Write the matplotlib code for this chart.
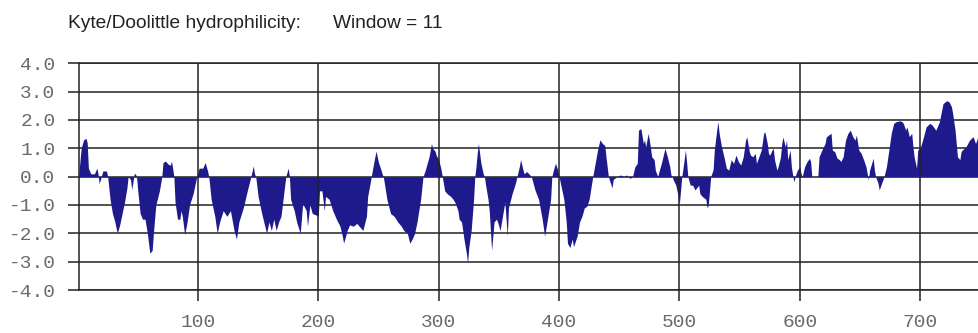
import numpy as np
import matplotlib
matplotlib.use('Agg')
import matplotlib.pyplot as plt

#Kyte/Doolittle hydrophilicity profile
residue = [1, 3, 5, 7, 8, 9, 11, 14, 16, 17, 18, 19, 21, 24, 25, 27, 29, 31, 33, 35,
           37, 39, 41, 42, 44, 45, 46, 47, 48, 49, 50, 52, 54, 56, 58, 60, 62, 63, 65, 68,
           70, 71, 73, 75, 77, 78, 79, 80, 81, 83, 85, 86, 87, 89, 91, 93, 96, 99, 101, 104,
           106, 108, 109, 111, 114, 116, 118, 121, 124, 127, 130, 132, 134, 138, 141, 144, 146, 147, 148, 150,
           153, 157, 159, 161, 163, 165, 167, 169, 171, 173, 175, 176, 177, 180, 182, 185, 187, 190, 191, 193,
           195, 198, 200, 201, 203, 205, 206, 209, 212, 215, 218, 220, 221, 224, 226, 229, 232, 234, 237, 240,
           241, 243, 244, 245, 247, 248, 250, 252, 253, 254, 257, 260, 263, 266, 269, 271, 274, 276, 278, 280,
           282, 285, 287, 289, 292, 294, 295, 297, 298, 300, 302, 303, 305, 307, 310, 312, 314, 316, 317, 319,
           321, 323, 324, 325, 327, 329, 330, 331, 332, 333, 335, 337, 338, 339, 341, 342, 344, 346, 348, 349,
           351, 353, 355, 357, 358, 361, 364, 365, 367, 368, 370, 371, 373, 375, 377, 380, 383, 386, 388, 390,
           393, 394, 395, 397, 399, 400, 402, 404, 406, 407, 409, 411, 412, 415, 417, 419, 421, 423, 425, 426,
           428, 430, 432, 434, 436, 438, 439, 441, 444, 445, 448, 451, 454, 456, 459, 461, 463, 465, 466, 468,
           470, 471, 472, 474, 475, 477, 479, 480, 482, 483, 485, 487, 488, 490, 492, 493, 494, 495, 497, 499,
           500, 502, 503, 505, 506, 507, 509, 511, 513, 516, 517, 519, 522, 523, 524, 526, 528, 529, 531, 532,
           533, 535, 537, 539, 541, 543, 545, 547, 549, 551, 553, 555, 556, 558, 559, 561, 563, 564, 566, 568,
           570, 571, 573, 574, 575, 577, 578, 579, 581, 582, 584, 585, 586, 588, 589, 590, 592, 593, 595, 597,
           598, 600, 601, 602, 604, 606, 608, 609, 610, 615, 616, 619, 621, 622, 624, 626, 627, 629, 631, 633,
           634, 636, 638, 640, 642, 644, 646, 647, 649, 651, 653, 655, 657, 658, 661, 662, 663, 665, 666, 668,
           670, 672, 674, 676, 678, 680, 683, 685, 686, 688, 689, 691, 693, 694, 695, 697, 698, 700, 702, 705,
           708, 710, 713, 716, 719, 722, 724, 726, 727, 729, 730, 731, 733, 734, 735, 738, 741, 744, 746, 749,
           752]

hydro = [0.1, 1.0, 1.3, 1.35, 1.2, 0.3, 0.1, 0.1, 0.3, 0.1, -0.25, -0.1, 0.2, 0.2, 0.0, -0.8, -1.3, -1.6, -2.0, -1.7,
         -1.3, -0.9, -0.4, 0.0, -0.1, -0.45, -0.2, 0.1, 0.1, 0.0, -0.5, -1.3, -1.5, -1.5, -2.0, -2.7, -2.6, -2.0, -1.0, -0.5,
         0.0, 0.5, 0.55, 0.45, 0.4, 0.55, 0.3, 0.0, -0.9, -1.5, -1.5, -1.2, -1.4, -2.05, -1.6, -1.0, -0.6, 0.0, 0.3, 0.3,
         0.5, 0.2, 0.0, -0.8, -1.4, -2.0, -1.6, -1.2, -1.4, -1.2, -1.9, -2.2, -1.6, -1.05, -0.5, 0.0, 0.38, 0.1, 0.0, -0.7,
         -1.3, -2.0, -1.6, -1.9, -1.5, -1.9, -1.6, -1.4, -0.7, 0.0, 0.3, 0.0, -0.8, -1.2, -1.6, -2.0, -0.95, -1.2, -1.75, -1.0,
         -1.3, -1.35, -1.4, -0.5, -0.5, -1.2, -0.7, -0.8, -1.2, -1.5, -1.75, -2.1, -2.35, -1.9, -1.7, -1.75, -1.65, -1.75, -1.9, -1.4,
         -0.7, -0.25, 0.0, 0.25, 0.7, 0.9, 0.5, 0.25, 0.1, 0.0, -0.8, -1.3, -1.4, -1.6, -1.75, -1.9, -2.0, -2.35, -2.2, -2.0,
         -1.6, -0.8, 0.0, 0.25, 0.7, 1.17, 1.0, 0.9, 0.75, 0.6, 0.25, 0.0, -0.5, -0.6, -0.7, -0.8, -0.95, -1.2, -1.5, -1.6,
         -2.2, -2.7, -3.05, -2.5, -1.9, -0.8, 0.0, 0.35, 0.82, 1.17, 0.5, 0.1, 0.0, -0.3, -0.8, -1.2, -2.6, -1.6, -1.5, -1.6,
         -1.9, -1.4, -0.9, -2.1, -1.1, -0.6, -0.2, 0.0, 0.35, 0.6, 0.25, 0.1, 0.18, 0.1, 0.0, -0.47, -0.8, -1.5, -2.1, -1.6,
         -0.8, 0.0, 0.18, 0.47, 0.23, 0.0, -0.4, -0.8, -1.6, -2.35, -2.5, -2.2, -2.47, -2.1, -1.6, -1.4, -1.1, -1.05, -0.8, -0.53,
         0.0, 0.47, 0.94, 1.3, 1.17, 1.1, 0.7, 0.0, -0.4, -0.1, 0.0, 0.06, 0.0, 0.06, -0.06, 0.0, 0.35, 0.47, 1.64, 1.7,
         1.17, 1.3, 1.05, 1.53, 1.3, 0.7, 0.6, 0.23, 0.0, 0.18, 0.47, 0.82, 1.0, 0.7, 0.35, 0.06, 0.0, -0.12, -0.3, -0.7,
         -0.94, 0.0, 0.3, 0.94, 0.5, 0.0, -0.3, -0.3, -0.47, -0.3, -0.6, -0.7, -0.8, -1.1, -1.0, 0.0, 0.25, 0.94, 1.64, 1.94,
         1.53, 1.05, 0.7, 0.3, 0.23, 0.6, 0.47, 0.76, 0.53, 0.41, 0.7, 1.3, 1.4, 0.9, 0.76, 0.7, 0.82, 0.47, 0.7, 0.94,
         1.53, 1.58, 1.17, 0.82, 0.76, 0.94, 1.0, 0.6, 0.23, 0.35, 0.7, 1.17, 1.4, 1.05, 1.3, 0.6, 0.94, 0.35, -0.18, 0.12,
         0.23, 0.35, 0.12, 0.0, 0.35, 0.53, 0.65, 0.53, 0.0, 0.0, 0.7, 1.0, 1.17, 1.4, 1.47, 1.53, 0.94, 0.88, 0.65, 0.6,
         0.53, 0.7, 1.29, 1.53, 1.64, 1.41, 1.29, 1.47, 0.94, 0.82, 0.6, 0.35, -0.12, 0.23, 0.65, 0.23, 0.0, -0.23, -0.47, -0.23,
         0.0, 0.35, 0.94, 1.53, 1.88, 1.94, 1.97, 1.94, 1.88, 1.64, 1.76, 1.41, 1.53, 1.05, 0.7, 0.3, 0.94, 1.0, 1.29, 1.76,
         1.88, 1.82, 1.64, 1.94, 2.58, 2.68, 2.64, 2.47, 2.23, 1.64, 1.17, 0.7, 0.6, 0.88, 0.94, 1.05, 1.29, 1.41, 1.17, 1.53,
         1.5]

x_ticks = [100, 200, 300, 400, 500, 600, 700]
y_ticks = [-4.0, -3.0, -2.0, -1.0, 0.0, 1.0, 2.0, 3.0, 4.0]
y_labels = ['-4.0', '-3.0', '-2.0', '-1.0', '0.0', '1.0', '2.0', '3.0', '4.0']

fill_col = '#1e1a8c'
grid_col = '#222222'
label_col = '#6a6a6a'

fig = plt.figure(figsize=(9.79, 3.33), dpi=100)
#axes run past the right edge, the scan is cut off there
ax = fig.add_axes([0.0807, 0.1291, 0.9305, 0.6808])

ax.fill_between(residue, hydro, 0, color=fill_col, lw=0, zorder=2)

ax.set_xlim(1.2, 758)
ax.set_ylim(-4, 4)

for y in y_ticks:
    ax.axhline(y, color=grid_col, lw=1.1, zorder=1)
for x in x_ticks:
    ax.axvline(x, color=grid_col, lw=1.1, zorder=3)

ax.set_xticks(x_ticks)
ax.set_xticklabels([str(x) for x in x_ticks])
ax.set_yticks(y_ticks)
ax.set_yticklabels(y_labels)
ax.tick_params(axis='both', direction='out', length=8, width=1.1, color=grid_col,
               labelcolor=label_col, labelsize=14, pad=9)
for lab in ax.get_xticklabels() + ax.get_yticklabels():
    lab.set_family('Liberation Mono')

for side in ['left', 'top', 'bottom']:
    ax.spines[side].set_color(grid_col)
    ax.spines[side].set_linewidth(1.1)
ax.spines['right'].set_visible(False)

fig.text(0.0695, 0.915, 'Kyte/Doolittle hydrophilicity:', family='Liberation Sans',
         fontsize=13.8, color='#222222', va='baseline')
fig.text(0.340, 0.915, 'Window = 11', family='Liberation Sans',
         fontsize=13.8, color='#222222', va='baseline')

fig.savefig('out.png', dpi=100)
